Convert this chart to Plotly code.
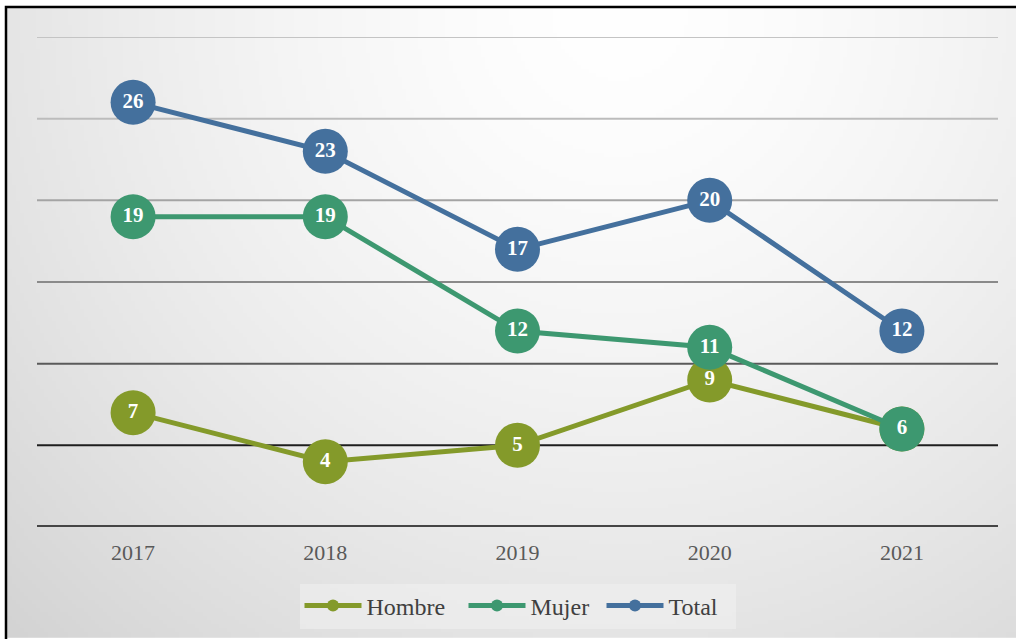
import base64, struct, zlib
import numpy as np
import plotly.graph_objects as go

years = ["2017", "2018", "2019", "2020", "2021"]
hombre = [7, 4, 5, 9, 6]
mujer = [19, 19, 12, 11, 6]
total = [26, 23, 17, 20, 12]

series_names = ["Hombre", "Mujer", "Total"]
series_values = [hombre, mujer, total]
series_colors = ["#849a2a", "#3d9870", "#44709d"]
legend_widths = [92, 66, 62]

grid_values = [5, 10, 15, 20, 25, 30]
grid_colors = ["#1e1e1e", "#5a5a5a", "#8a8a8a", "#a4a4a4", "#bcbcbc", "#c4c4c4"]

W_FIG, H_FIG = 1016, 639
L, R, T, B = 37, 18, 37, 111
PW = W_FIG - L - R
PH = H_FIG - T - B


def px_to_paper_x(px):
    return (px - L) / PW


def px_to_paper_y(py):
    return (H_FIG - B - py) / PH


# background radial gradient image (styling only)
def make_gradient_png(w, h, x0, y0, x1, y1):
    xs = np.linspace(x0, x1, w)
    ys = np.linspace(y0, y1, h)
    X, Y = np.meshgrid(xs, ys)
    d = np.sqrt((X - 620.0) ** 2 + (Y - 10.0) ** 2)
    g = 255 - 44 * np.clip(d / 880.0, 0, 1.2) ** 1.5
    g = np.clip(g, 0, 255).astype(np.uint8)
    raw = b"".join(b"\x00" + g[i].tobytes() for i in range(h))

    def chunk(tag, data):
        c = struct.pack(">I", len(data)) + tag + data
        return c + struct.pack(">I", zlib.crc32(tag + data) & 0xFFFFFFFF)

    png = b"\x89PNG\r\n\x1a\n"
    png += chunk(b"IHDR", struct.pack(">IIBBBBB", w, h, 8, 0, 0, 0, 0))
    png += chunk(b"IDAT", zlib.compress(raw, 9))
    png += chunk(b"IEND", b"")
    return "data:image/png;base64," + base64.b64encode(png).decode()


bg_src = make_gradient_png(254, 158, 6, 7, W_FIG, H_FIG)

fig = go.Figure()
for name, vals, col, lw in zip(series_names, series_values, series_colors, legend_widths):
    fig.add_trace(go.Scatter(
        x=years, y=vals, name=name,
        mode="lines+markers+text",
        line=dict(color=col, width=5),
        marker=dict(color=col, size=45, line=dict(width=0)),
        text=[str(v) for v in vals],
        textposition="middle center",
        textfont=dict(family="Liberation Serif", size=21, color="white", weight="bold"),
        cliponaxis=False,
        legendwidth=lw,
        hoverinfo="x+y+name",
    ))

shapes = []
for v, c in zip(grid_values, grid_colors):
    shapes.append(dict(type="line", xref="paper", yref="y", x0=0, x1=1, y0=v, y1=v,
                       line=dict(color=c, width=2), layer="below"))
shapes.append(dict(type="line", xref="paper", yref="y", x0=0, x1=1, y0=0, y1=0,
                   line=dict(color="#454545", width=4), layer="below"))
shapes.append(dict(type="rect", xref="paper", yref="paper",
                   x0=px_to_paper_x(6), x1=px_to_paper_x(1060),
                   y0=px_to_paper_y(700), y1=px_to_paper_y(7),
                   line=dict(color="black", width=2.5), layer="above"))

fig.update_layout(
    width=W_FIG, height=H_FIG,
    margin=dict(l=L, r=R, t=T, b=B),
    paper_bgcolor="white",
    plot_bgcolor="rgba(0,0,0,0)",
    showlegend=True,
    legend=dict(
        orientation="h", x=0.5, y=px_to_paper_y(606),
        xanchor="center", yanchor="middle",
        bgcolor="rgba(240,240,240,0.6)",
        font=dict(family="Liberation Serif", size=24, color="#404040"),
        itemsizing="constant", itemwidth=57,
        traceorder="normal",
    ),
    images=[dict(source=bg_src, xref="paper", yref="paper",
                 x=px_to_paper_x(6), y=px_to_paper_y(7),
                 sizex=(W_FIG - 6) / PW, sizey=(H_FIG - 7) / PH,
                 xanchor="left", yanchor="top", sizing="stretch", layer="below")],
    shapes=shapes,
    xaxis=dict(type="category", range=[-0.5, 4.5], showgrid=False, zeroline=False,
               showline=False, ticks="outside", ticklen=6, tickcolor="rgba(0,0,0,0)",
               tickfont=dict(family="Liberation Serif", size=22, color="#595959")),
    yaxis=dict(range=[0, 30], showgrid=False, zeroline=False, showticklabels=False,
               showline=False),
)

fig.write_html("out.html", config={"displayModeBar": False},
               post_script="document.body.style.margin='0px';")
